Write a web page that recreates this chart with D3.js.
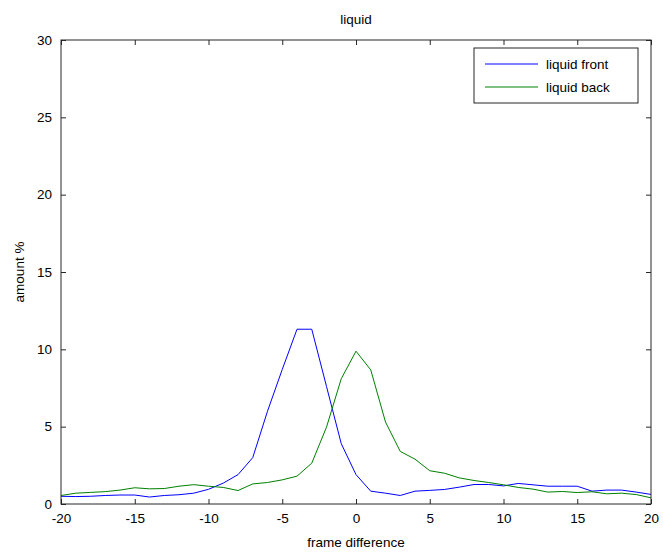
<!DOCTYPE html>
<html>
<head>
<meta charset="utf-8">
<script src="https://cdn.jsdelivr.net/npm/d3@7"></script>
<style>
  body { margin: 0; background: #fff; }
  text { font-family: "Liberation Sans", Arial, sans-serif; }
</style>
</head>
<body>
<div id="chart"></div>
<script>
/**
 * DATA
 * */
const frames = d3.range(-20, 21);
const liquidFront = [
  0.5, 0.48, 0.5, 0.55, 0.58, 0.58, 0.45, 0.55, 0.6, 0.7,
  0.95, 1.35, 1.9, 3.0, 6.0, 8.7, 11.3, 11.3, 7.6, 3.9,
  1.9, 0.83, 0.7, 0.55, 0.83, 0.88, 0.94, 1.09, 1.26, 1.26,
  1.17, 1.33, 1.24, 1.15, 1.15, 1.15, 0.83, 0.9, 0.9, 0.77, 0.62
];
const liquidBack = [
  0.55, 0.7, 0.75, 0.8, 0.9, 1.05, 0.98, 1.0, 1.15, 1.25,
  1.15, 1.07, 0.87, 1.3, 1.39, 1.56, 1.8, 2.64, 4.97, 8.1,
  9.88, 8.67, 5.3, 3.4, 2.9, 2.15, 1.99, 1.69, 1.52, 1.39,
  1.24, 1.07, 0.96, 0.77, 0.81, 0.74, 0.79, 0.66, 0.7, 0.61, 0.4
];
const series = [
  { name: "liquid front", color: "#0000ff", values: liquidFront },
  { name: "liquid back", color: "#008000", values: liquidBack }
];
const xTicks = [-20, -15, -10, -5, 0, 5, 10, 15, 20];
const yTicks = [0, 5, 10, 15, 20, 25, 30];

/**
 * LAYOUT
 * */
const width = 663, height = 555;
const margin = { top: 40, right: 12, bottom: 51, left: 61 };
const innerW = width - margin.left - margin.right;
const innerH = height - margin.top - margin.bottom;

const svg = d3.select("#chart").append("svg")
  .attr("width", width)
  .attr("height", height);

const x = d3.scaleLinear().domain([-20, 20]).range([0, innerW]);
const y = d3.scaleLinear().domain([0, 30]).range([innerH, 0]);

const g = svg.append("g")
  .attr("transform", `translate(${margin.left},${margin.top})`);

// lines
const line = d3.line()
  .x((d, i) => x(frames[i]))
  .y(d => y(d));

g.selectAll("path.series")
  .data(series)
  .join("path")
  .attr("class", "series")
  .attr("fill", "none")
  .attr("stroke", d => d.color)
  .attr("stroke-width", 1)
  .attr("d", d => line(d.values));

// axes, matlab style with inward ticks on all sides
const axisColor = "#262626";
const plainNum = d => String(d); // plain hyphen minus like the original
function styleAxis(sel) {
  sel.select(".domain").remove();
  sel.selectAll(".tick line").attr("stroke", axisColor);
  sel.selectAll(".tick text")
    .attr("fill", "#000")
    .style("font-size", "13.5px");
}

g.append("g")
  .attr("transform", `translate(0,${innerH})`)
  .call(d3.axisBottom(x).tickValues(xTicks).tickSize(-5).tickPadding(9).tickFormat(plainNum))
  .call(styleAxis);

g.append("g")
  .call(d3.axisTop(x).tickValues(xTicks).tickSize(-5).tickFormat(""))
  .call(styleAxis);

g.append("g")
  .call(d3.axisLeft(y).tickValues(yTicks).tickSize(-5).tickPadding(9).tickFormat(plainNum))
  .call(styleAxis);

g.append("g")
  .attr("transform", `translate(${innerW},0)`)
  .call(d3.axisRight(y).tickValues(yTicks).tickSize(-5).tickFormat(""))
  .call(styleAxis);

g.append("rect")
  .attr("width", innerW)
  .attr("height", innerH)
  .attr("fill", "none")
  .attr("stroke", axisColor)
  .attr("stroke-width", 1);

// labels
svg.append("text")
  .attr("x", margin.left + innerW / 2)
  .attr("y", 24)
  .attr("text-anchor", "middle")
  .style("font-size", "13.5px")
  .text("liquid");

svg.append("text")
  .attr("x", margin.left + innerW / 2)
  .attr("y", 547)
  .attr("text-anchor", "middle")
  .style("font-size", "13.5px")
  .text("frame difference");

svg.append("text")
  .attr("transform", `translate(24,${margin.top + innerH / 2}) rotate(-90)`)
  .attr("text-anchor", "middle")
  .style("font-size", "13.5px")
  .text("amount %");

// legend
const legend = svg.append("g").attr("transform", "translate(474,48)");
legend.append("rect")
  .attr("width", 164)
  .attr("height", 55)
  .attr("fill", "#fff")
  .attr("stroke", axisColor);

const item = legend.selectAll("g.item")
  .data(series)
  .join("g")
  .attr("class", "item")
  .attr("transform", (d, i) => `translate(0,${16 + i * 23})`);

item.append("line")
  .attr("x1", 11).attr("x2", 64)
  .attr("stroke", d => d.color);

item.append("text")
  .attr("x", 72)
  .attr("dy", "0.35em")
  .style("font-size", "13.5px")
  .text(d => d.name);
</script>
</body>
</html>
